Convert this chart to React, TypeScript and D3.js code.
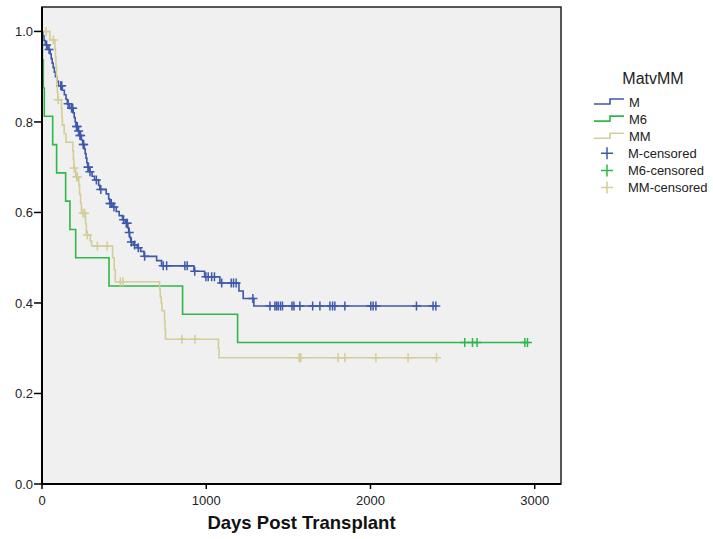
import * as d3 from 'd3';

// Kaplan-Meier estimates
const groups = ['M', 'M6', 'MM'];
const colors = ['#3E58AC', '#2EB848', '#D3CE97'];

const mDays = [5, 12, 20, 36, 50, 56, 62, 68, 75, 82, 90, 100, 124, 136, 146, 154, 168, 190, 196, 202, 207, 218, 226, 240, 248, 258, 263, 268, 273, 278, 290, 305, 320, 345, 352, 391, 406, 412, 432, 452, 470, 490, 508, 523, 528, 534, 540, 556, 580, 600, 621, 698, 728, 925, 990, 1083, 1199, 1225, 1290];
const mSurv = [0.99, 0.98, 0.97, 0.96, 0.95, 0.94, 0.93, 0.92, 0.91, 0.9, 0.89, 0.88, 0.87, 0.86, 0.85, 0.84, 0.83, 0.82, 0.81, 0.8, 0.79, 0.78, 0.77, 0.76, 0.75, 0.74, 0.73, 0.72, 0.71, 0.7, 0.69, 0.68, 0.672, 0.66, 0.651, 0.641, 0.63, 0.62, 0.612, 0.602, 0.593, 0.584, 0.576, 0.566, 0.556, 0.545, 0.535, 0.528, 0.522, 0.514, 0.503, 0.4935, 0.482, 0.47, 0.458, 0.444, 0.4265, 0.41, 0.3934];
const mCensored = [28, 43, 114, 120, 159, 180, 187, 210, 215, 223, 231, 235, 251, 254, 280, 283, 292, 331, 358, 414, 422, 438, 497, 513, 519, 531, 544, 564, 586, 625, 738, 759, 870, 884, 930, 998, 1012, 1033, 1050, 1094, 1152, 1166, 1182, 1284, 1388, 1418, 1428, 1438, 1452, 1464, 1522, 1534, 1570, 1648, 1692, 1753, 1769, 1783, 1844, 2002, 2016, 2033, 2280, 2381, 2398];

const m6Days = [3, 8, 14, 65, 89, 144, 170, 205, 408, 856, 1191];
const m6Surv = [0.9375, 0.875, 0.8125, 0.75, 0.6875, 0.625, 0.5625, 0.5, 0.4375, 0.375, 0.3125];
const m6Censored = [2574, 2621, 2649, 2940, 2956];

const mmDays = [48, 79, 82, 85, 88, 90, 93, 96, 118, 121, 124, 135, 146, 188, 191, 194, 205, 224, 229, 235, 240, 265, 270, 294, 302, 430, 440, 446, 716, 720, 726, 730, 746, 749, 752, 1074, 1078];
const mmSurv = [0.981, 0.962, 0.943, 0.923, 0.904, 0.885, 0.866, 0.849, 0.83, 0.811, 0.793, 0.774, 0.755, 0.736, 0.717, 0.698, 0.679, 0.66, 0.64, 0.62, 0.598, 0.575, 0.55, 0.537, 0.526, 0.5, 0.474, 0.447, 0.431, 0.414, 0.4, 0.383, 0.362, 0.341, 0.32, 0.3, 0.279];
const mmCensored = [24, 69, 99, 196, 211, 215, 250, 260, 276, 337, 397, 477, 493, 852, 931, 1566, 1575, 1803, 1844, 2033, 2229, 2402];

const xTicks = [0, 1000, 2000, 3000];
const yTicks = [0, 0.2, 0.4, 0.6, 0.8, 1.0];

const legendLabels = ['M', 'M6', 'MM', 'M-censored', 'M6-censored', 'MM-censored'];

const series = [
  { days: mDays, surv: mSurv, censored: mCensored },
  { days: m6Days, surv: m6Surv, censored: m6Censored },
  { days: mmDays, surv: mmSurv, censored: mmCensored },
];

const width = 713;
const height = 539;
const margin = { top: 7, right: 152, bottom: 55, left: 42 };
const font = '"Liberation Sans", Arial, sans-serif';

export default function App() {
  const x = d3.scaleLinear().domain([0, 3160]).range([margin.left, width - margin.right]);
  const y = d3.scaleLinear().domain([0, 1.054]).range([height - margin.bottom, margin.top]);

  const line = d3.line<[number, number]>()
    .x(d => x(d[0]))
    .y(d => y(d[1]))
    .curve(d3.curveStepAfter);

  const survAt = (s: typeof series[0], t: number) => {
    let v = 1;
    s.days.forEach((d, i) => { if (d <= t) v = s.surv[i]; });
    return v;
  };

  const x0 = margin.left;
  const x1 = width - margin.right;
  const y0 = height - margin.bottom;
  const y1 = margin.top;
  const arm = 4.5;

  return (
    <div style={{ position: 'absolute', left: 0, top: 0 }}>
      <svg width={width} height={height} style={{ display: 'block', background: '#fff' }}>
        <rect x={x0} y={y1} width={x1 - x0} height={y0 - y1} fill="#F0F0F0" stroke="#222" strokeWidth={1.5} />

        {series.map((s, i) => {
          const end = d3.max([...s.days, ...s.censored]) as number;
          const pts: [number, number][] = [[0, 1], ...s.days.map((d, j) => [d, s.surv[j]] as [number, number]), [end, s.surv[s.surv.length - 1]]];
          return (
            <g key={groups[i]}>
              <path d={line(pts) || ''} fill="none" stroke={colors[i]} strokeWidth={1.6} />
              {s.censored.map((c, j) => {
                const cx = x(c);
                const cy = y(survAt(s, c));
                return (
                  <path key={j} d={`M${cx - arm},${cy}H${cx + arm}M${cx},${cy - arm}V${cy + arm}`} stroke={colors[i]} strokeWidth={1.5} fill="none" />
                );
              })}
            </g>
          );
        })}

        {/* axes */}
        <line x1={x0} x2={x0} y1={y1} y2={y0} stroke="#000" strokeWidth={2} />
        <line x1={x0} x2={x1} y1={y0} y2={y0} stroke="#000" strokeWidth={2} />
        {yTicks.map(t => (
          <g key={t}>
            <line x1={x0 - 8} x2={x0} y1={y(t)} y2={y(t)} stroke="#000" strokeWidth={1.5} />
            <text x={x0 - 9} y={y(t)} dy="0.35em" textAnchor="end" fontFamily={font} fontSize={13} fill="#222">{d3.format('.1f')(t)}</text>
          </g>
        ))}
        {xTicks.map(t => (
          <g key={t}>
            <line x1={x(t)} x2={x(t)} y1={y0} y2={y0 + 5} stroke="#000" strokeWidth={1.5} />
            <text x={x(t)} y={y0 + 21} textAnchor="middle" fontFamily={font} fontSize={13} fill="#222">{t}</text>
          </g>
        ))}
        <text x={(x0 + x1) / 2} y={529} textAnchor="middle" fontFamily={font} fontSize={18.5} fontWeight="bold" fill="#111">Days Post Transplant</text>

        {/* legend */}
        <text x={653} y={84} textAnchor="middle" fontFamily={font} fontSize={16} fill="#222">MatvMM</text>
        {legendLabels.map((lab, i) => {
          const cy = 102 + i * 17.1;
          const c = colors[i % 3];
          return (
            <g key={lab}>
              {i < 3 ? (
                <path d={`M594,${cy + 2}H610V${cy - 3}H624`} fill="none" stroke={c} strokeWidth={1.6} />
              ) : (
                <path d={`M601,${cy}H613M607,${cy - 6}V${cy + 6}`} fill="none" stroke={c} strokeWidth={1.5} />
              )}
              <text x={i < 3 ? 629 : 628} y={cy} dy="0.35em" fontFamily={font} fontSize={13} fill="#222">{lab}</text>
            </g>
          );
        })}
      </svg>
    </div>
  );
}
